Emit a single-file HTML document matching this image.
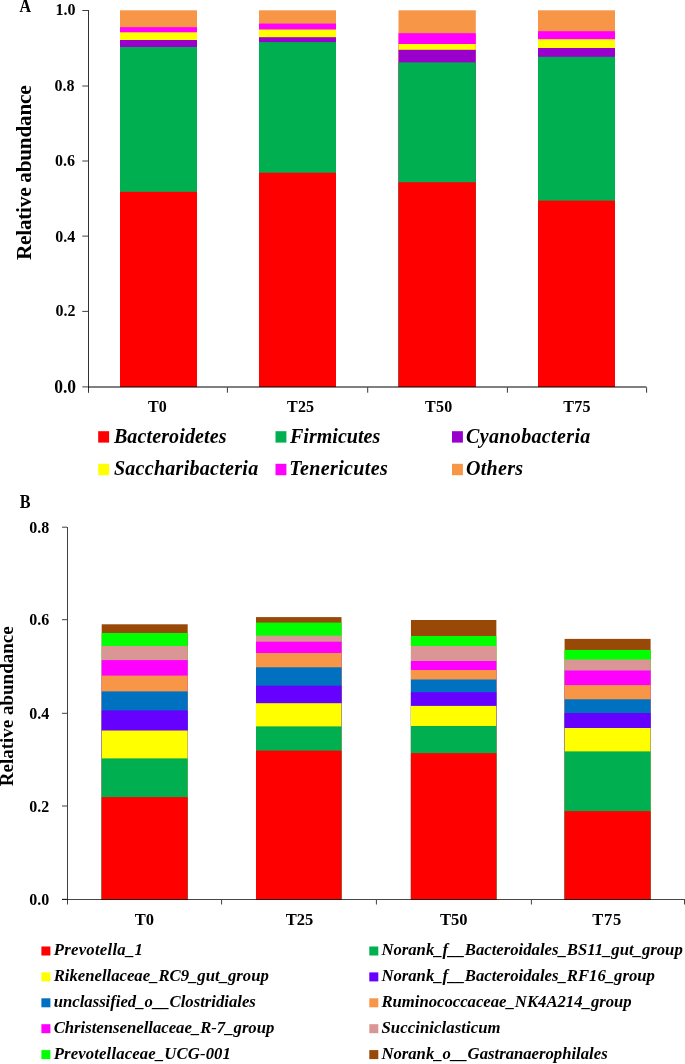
<!DOCTYPE html>
<html><head><meta charset="utf-8"><title>Relative abundance</title>
<style>
html,body{margin:0;padding:0;background:#fff;width:685px;height:1064px;overflow:hidden}
svg{display:block;font-family:"Liberation Serif",serif;will-change:transform}
</style></head><body>
<svg width="685" height="1064" viewBox="0 0 685 1064">
<rect x="120" y="10.3" width="77" height="376.7" fill="#F79646"/>
<rect x="120" y="27.2" width="77" height="359.8" fill="#FF00FF"/>
<rect x="120" y="32.3" width="77" height="354.7" fill="#FFFF00"/>
<rect x="120" y="40.0" width="77" height="347.0" fill="#9900CC"/>
<rect x="120" y="47.0" width="77" height="340.0" fill="#00B050"/>
<rect x="120" y="191.8" width="77" height="195.2" fill="#FF0000"/>
<rect x="259" y="10.3" width="77" height="376.7" fill="#F79646"/>
<rect x="259" y="23.6" width="77" height="363.4" fill="#FF00FF"/>
<rect x="259" y="29.5" width="77" height="357.5" fill="#FFFF00"/>
<rect x="259" y="37.2" width="77" height="349.8" fill="#9900CC"/>
<rect x="259" y="42.1" width="77" height="344.9" fill="#00B050"/>
<rect x="259" y="172.7" width="77" height="214.3" fill="#FF0000"/>
<rect x="398.5" y="10.3" width="77.3" height="376.7" fill="#F79646"/>
<rect x="398.5" y="33.2" width="77.3" height="353.8" fill="#FF00FF"/>
<rect x="398.5" y="44.0" width="77.3" height="343.0" fill="#FFFF00"/>
<rect x="398.5" y="49.8" width="77.3" height="337.2" fill="#9900CC"/>
<rect x="398.5" y="62.4" width="77.3" height="324.6" fill="#00B050"/>
<rect x="398.5" y="182.2" width="77.3" height="204.8" fill="#FF0000"/>
<rect x="538" y="10.3" width="77" height="376.7" fill="#F79646"/>
<rect x="538" y="31.2" width="77" height="355.8" fill="#FF00FF"/>
<rect x="538" y="39.2" width="77" height="347.8" fill="#FFFF00"/>
<rect x="538" y="48.0" width="77" height="339.0" fill="#9900CC"/>
<rect x="538" y="56.8" width="77" height="330.2" fill="#00B050"/>
<rect x="538" y="200.6" width="77" height="186.4" fill="#FF0000"/>
<line x1="88.5" y1="10" x2="88.5" y2="392.8" stroke="#000" stroke-opacity="0.8" stroke-width="1"/>
<line x1="88" y1="387" x2="646.5" y2="387" stroke="#000" stroke-width="1"/>
<line x1="82.3" y1="386.9" x2="88" y2="386.9" stroke="#000" stroke-opacity="0.75" stroke-width="1"/>
<text x="0" y="0" font-size="17.5" text-anchor="end" font-weight="bold" transform="translate(76.1,392.8) scale(1,1.07)">0.0</text>
<line x1="82.3" y1="311.4" x2="88" y2="311.4" stroke="#000" stroke-opacity="0.75" stroke-width="1"/>
<text x="75.6" y="316.4" font-size="16" text-anchor="end" font-weight="bold" >0.2</text>
<line x1="82.3" y1="236.1" x2="88" y2="236.1" stroke="#000" stroke-opacity="0.75" stroke-width="1"/>
<text x="75.3" y="241.9" font-size="16" text-anchor="end" font-weight="bold" >0.4</text>
<line x1="82.3" y1="161.0" x2="88" y2="161.0" stroke="#000" stroke-opacity="0.75" stroke-width="1"/>
<text x="75.0" y="166.2" font-size="16" text-anchor="end" font-weight="bold" >0.6</text>
<line x1="82.3" y1="86.0" x2="88" y2="86.0" stroke="#000" stroke-opacity="0.75" stroke-width="1"/>
<text x="74.4" y="90.7" font-size="16" text-anchor="end" font-weight="bold" >0.8</text>
<line x1="82.3" y1="10.5" x2="88" y2="10.5" stroke="#000" stroke-opacity="0.75" stroke-width="1"/>
<text x="75.6" y="15.0" font-size="16" text-anchor="end" font-weight="bold" >1.0</text>
<line x1="227.4" y1="387.5" x2="227.4" y2="392.7" stroke="#000" stroke-opacity="0.8" stroke-width="1"/>
<line x1="367.7" y1="387.5" x2="367.7" y2="392.7" stroke="#000" stroke-opacity="0.8" stroke-width="1"/>
<line x1="507.4" y1="387.5" x2="507.4" y2="392.7" stroke="#000" stroke-opacity="0.8" stroke-width="1"/>
<line x1="646.6" y1="387.5" x2="646.6" y2="392.7" stroke="#000" stroke-opacity="0.8" stroke-width="1"/>
<text x="157.45" y="411.7" font-size="16" text-anchor="middle" font-weight="bold" >T0</text>
<text x="300.6" y="411.7" font-size="16" text-anchor="middle" font-weight="bold"  textLength="26.97" lengthAdjust="spacing">T25</text>
<text x="438.7" y="411.7" font-size="16" text-anchor="middle" font-weight="bold"  textLength="27.17" lengthAdjust="spacing">T50</text>
<text x="576.85" y="411.7" font-size="16" text-anchor="middle" font-weight="bold"  textLength="27.17" lengthAdjust="spacing">T75</text>
<text x="0" y="0" font-size="17" font-weight="bold" text-anchor="middle" transform="translate(25.3,12) scale(0.94,1.1)">A</text>
<text font-size="21.3" font-weight="bold" text-anchor="middle" textLength="174.6" lengthAdjust="spacing" transform="translate(31.1,172.7) rotate(-90)">Relative abundance</text>
<rect x="98.2" y="431.2" width="10.9" height="11.4" fill="#FF0000"/>
<text x="113.9" y="442.6" font-size="20" text-anchor="start" font-weight="bold" font-style="italic"  textLength="112.59" lengthAdjust="spacing">Bacteroidetes</text>
<rect x="275.5" y="431.2" width="10.9" height="11.4" fill="#00B050"/>
<text x="290" y="442.6" font-size="20" text-anchor="start" font-weight="bold" font-style="italic"  textLength="90.22" lengthAdjust="spacing">Firmicutes</text>
<rect x="452" y="431.2" width="10.9" height="11.4" fill="#9900CC"/>
<text x="466.1" y="442.6" font-size="20" text-anchor="start" font-weight="bold" font-style="italic"  textLength="124.2" lengthAdjust="spacing">Cyanobacteria</text>
<rect x="98.2" y="463.8" width="10.9" height="11.4" fill="#FFFF00"/>
<text x="113.9" y="475.2" font-size="20" text-anchor="start" font-weight="bold" font-style="italic"  textLength="144.3" lengthAdjust="spacing">Saccharibacteria</text>
<rect x="275.5" y="463.8" width="10.9" height="11.4" fill="#FF00FF"/>
<text x="289.2" y="475.2" font-size="20" text-anchor="start" font-weight="bold" font-style="italic"  textLength="98.63" lengthAdjust="spacing">Tenericutes</text>
<rect x="452" y="463.8" width="10.9" height="11.4" fill="#F79646"/>
<text x="466.1" y="475.2" font-size="20" text-anchor="start" font-weight="bold" font-style="italic"  textLength="56.88" lengthAdjust="spacing">Others</text>
<rect x="101.7" y="624.3" width="86" height="275.2" fill="#984807"/>
<rect x="101.7" y="633" width="86" height="266.5" fill="#00FF00"/>
<rect x="101.7" y="646" width="86" height="253.5" fill="#D99694"/>
<rect x="101.7" y="660.1" width="86" height="239.4" fill="#FF00FF"/>
<rect x="101.7" y="675.6" width="86" height="223.9" fill="#F79646"/>
<rect x="101.7" y="691.4" width="86" height="208.1" fill="#0070C0"/>
<rect x="101.7" y="710.4" width="86" height="189.1" fill="#6600FF"/>
<rect x="101.7" y="730.5" width="86" height="169.0" fill="#FFFF00"/>
<rect x="101.7" y="758.4" width="86" height="141.1" fill="#00B050"/>
<rect x="101.7" y="797.1" width="86" height="102.4" fill="#FF0000"/>
<rect x="256.0" y="617.1" width="85.5" height="282.4" fill="#984807"/>
<rect x="256.0" y="622.6" width="85.5" height="276.9" fill="#00FF00"/>
<rect x="256.0" y="635.6" width="85.5" height="263.9" fill="#D99694"/>
<rect x="256.0" y="641.7" width="85.5" height="257.8" fill="#FF00FF"/>
<rect x="256.0" y="653" width="85.5" height="246.5" fill="#F79646"/>
<rect x="256.0" y="667.3" width="85.5" height="232.2" fill="#0070C0"/>
<rect x="256.0" y="685.7" width="85.5" height="213.8" fill="#6600FF"/>
<rect x="256.0" y="703.2" width="85.5" height="196.3" fill="#FFFF00"/>
<rect x="256.0" y="726.4" width="85.5" height="173.1" fill="#00B050"/>
<rect x="256.0" y="750.6" width="85.5" height="148.9" fill="#FF0000"/>
<rect x="410.95" y="620" width="85.4" height="279.5" fill="#984807"/>
<rect x="410.95" y="636" width="85.4" height="263.5" fill="#00FF00"/>
<rect x="410.95" y="646" width="85.4" height="253.5" fill="#D99694"/>
<rect x="410.95" y="661" width="85.4" height="238.5" fill="#FF00FF"/>
<rect x="410.95" y="670" width="85.4" height="229.5" fill="#F79646"/>
<rect x="410.95" y="679.5" width="85.4" height="220.0" fill="#0070C0"/>
<rect x="410.95" y="692.2" width="85.4" height="207.3" fill="#6600FF"/>
<rect x="410.95" y="705.9" width="85.4" height="193.6" fill="#FFFF00"/>
<rect x="410.95" y="726" width="85.4" height="173.5" fill="#00B050"/>
<rect x="410.95" y="753.1" width="85.4" height="146.4" fill="#FF0000"/>
<rect x="564.6" y="638.9" width="86" height="260.6" fill="#984807"/>
<rect x="564.6" y="649.9" width="86" height="249.6" fill="#00FF00"/>
<rect x="564.6" y="659.5" width="86" height="240.0" fill="#D99694"/>
<rect x="564.6" y="670.5" width="86" height="229.0" fill="#FF00FF"/>
<rect x="564.6" y="685.1" width="86" height="214.4" fill="#F79646"/>
<rect x="564.6" y="699.3" width="86" height="200.2" fill="#0070C0"/>
<rect x="564.6" y="713" width="86" height="186.5" fill="#6600FF"/>
<rect x="564.6" y="728" width="86" height="171.5" fill="#FFFF00"/>
<rect x="564.6" y="751.4" width="86" height="148.1" fill="#00B050"/>
<rect x="564.6" y="811.1" width="86" height="88.4" fill="#FF0000"/>
<line x1="67.5" y1="527" x2="67.5" y2="904.5" stroke="#000" stroke-opacity="0.75" stroke-width="1"/>
<line x1="62" y1="899.5" x2="685" y2="899.5" stroke="#000" stroke-opacity="0.72" stroke-width="1"/>
<line x1="62" y1="899.3" x2="67" y2="899.3" stroke="#000" stroke-opacity="0.75" stroke-width="1"/>
<text x="49.2" y="904.8" font-size="16" text-anchor="end" font-weight="bold" >0.0</text>
<line x1="62" y1="806.0" x2="67" y2="806.0" stroke="#000" stroke-opacity="0.75" stroke-width="1"/>
<text x="49.2" y="811.5" font-size="16" text-anchor="end" font-weight="bold" >0.2</text>
<line x1="62" y1="713.3" x2="67" y2="713.3" stroke="#000" stroke-opacity="0.75" stroke-width="1"/>
<text x="49.2" y="718.9" font-size="16" text-anchor="end" font-weight="bold" >0.4</text>
<line x1="62" y1="619.7" x2="67" y2="619.7" stroke="#000" stroke-opacity="0.75" stroke-width="1"/>
<text x="49.2" y="625.1" font-size="16" text-anchor="end" font-weight="bold" >0.6</text>
<line x1="62" y1="527.2" x2="67" y2="527.2" stroke="#000" stroke-opacity="0.75" stroke-width="1"/>
<text x="49.2" y="532.7" font-size="16" text-anchor="end" font-weight="bold" >0.8</text>
<line x1="221.6" y1="900" x2="221.6" y2="904.5" stroke="#000" stroke-opacity="0.75" stroke-width="1"/>
<line x1="376.4" y1="900" x2="376.4" y2="904.5" stroke="#000" stroke-opacity="0.75" stroke-width="1"/>
<line x1="531.4" y1="900" x2="531.4" y2="904.5" stroke="#000" stroke-opacity="0.75" stroke-width="1"/>
<line x1="684.5" y1="900" x2="684.5" y2="904.5" stroke="#000" stroke-opacity="0.75" stroke-width="1"/>
<text x="144.5" y="924.8" font-size="16.5" text-anchor="middle" font-weight="bold" >T0</text>
<text x="299.4" y="924.8" font-size="16.5" text-anchor="middle" font-weight="bold" >T25</text>
<text x="453.8" y="924.8" font-size="16.5" text-anchor="middle" font-weight="bold" >T50</text>
<text x="606.7" y="924.8" font-size="16.5" text-anchor="middle" font-weight="bold"  textLength="29.12" lengthAdjust="spacing">T75</text>
<text x="0" y="0" font-size="17" font-weight="bold" text-anchor="middle" transform="translate(25.1,507.5) scale(0.95,1.06)">B</text>
<text font-size="19" font-weight="bold" text-anchor="middle" transform="translate(13,706.3) rotate(-90)">Relative abundance</text>
<rect x="41.4" y="946.5" width="9" height="9" fill="#FF0000"/>
<text x="53.7" y="955.4" font-size="16.7" text-anchor="start" font-weight="bold" font-style="italic"  textLength="89.2" lengthAdjust="spacing">Prevotella_1</text>
<rect x="41.4" y="972.4" width="9" height="9" fill="#FFFF00"/>
<text x="53.7" y="981.3" font-size="16.7" text-anchor="start" font-weight="bold" font-style="italic" >Rikenellaceae_RC9_gut_group</text>
<rect x="41.4" y="998.3" width="9" height="9" fill="#0070C0"/>
<text x="53.7" y="1007.2" font-size="16.7" text-anchor="start" font-weight="bold" font-style="italic" >unclassified_o__Clostridiales</text>
<rect x="41.4" y="1024.2" width="9" height="9" fill="#FF00FF"/>
<text x="53.7" y="1033.1" font-size="16.7" text-anchor="start" font-weight="bold" font-style="italic" >Christensenellaceae_R-7_group</text>
<rect x="41.4" y="1050.1" width="9" height="9" fill="#00FF00"/>
<text x="53.7" y="1059.0" font-size="16.7" text-anchor="start" font-weight="bold" font-style="italic"  textLength="177.23" lengthAdjust="spacing">Prevotellaceae_UCG-001</text>
<rect x="369.3" y="946.5" width="9" height="9" fill="#00B050"/>
<text x="381.4" y="955.4" font-size="16.7" text-anchor="start" font-weight="bold" font-style="italic" >Norank_f__Bacteroidales_BS11_gut_group</text>
<rect x="369.3" y="972.4" width="9" height="9" fill="#6600FF"/>
<text x="381.4" y="981.3" font-size="16.7" text-anchor="start" font-weight="bold" font-style="italic" >Norank_f__Bacteroidales_RF16_group</text>
<rect x="369.3" y="998.3" width="9" height="9" fill="#F79646"/>
<text x="381.4" y="1007.2" font-size="16.7" text-anchor="start" font-weight="bold" font-style="italic" >Ruminococcaceae_NK4A214_group</text>
<rect x="369.3" y="1024.2" width="9" height="9" fill="#D99694"/>
<text x="381.4" y="1033.1" font-size="16.7" text-anchor="start" font-weight="bold" font-style="italic"  textLength="119.15" lengthAdjust="spacing">Succiniclasticum</text>
<rect x="369.3" y="1050.1" width="9" height="9" fill="#984807"/>
<text x="381.4" y="1059.0" font-size="16.7" text-anchor="start" font-weight="bold" font-style="italic" >Norank_o__Gastranaerophilales</text>
</svg>
</body></html>
